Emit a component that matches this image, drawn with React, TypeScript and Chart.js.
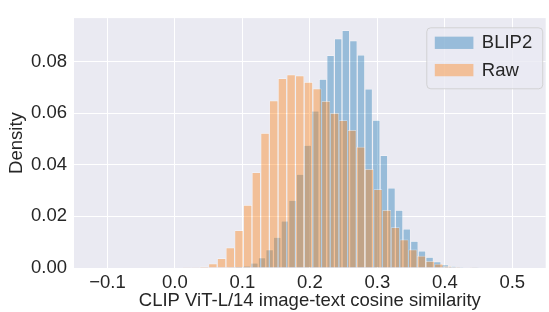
import React, { useEffect, useRef } from "react";
import { Chart, registerables } from "chart.js";

Chart.register(...registerables);

// ---- Data ----
const RAW_BIN_START = -0.1176;
const RAW_BIN_WIDTH = 0.01288;
const rawDensity = [
  0, 0, 0, 0, 0, 0, 0, 0, 0, 0,
  0.0001, 0.0003, 0.0006, 0.0017, 0.0038, 0.0079, 0.0146, 0.0244, 0.0371, 0.0523,
  0.0649, 0.0735, 0.075, 0.0746, 0.072, 0.0695, 0.0647, 0.06, 0.0572, 0.0535,
  0.047, 0.0383, 0.0305, 0.0225, 0.0158, 0.011, 0.0072, 0.0047, 0.0027, 0.0016,
  0.0008, 0.0004, 0.0002, 0.0001, 0, 0, 0, 0, 0,
];

const BLIP2_BIN_START = 0.067;
const BLIP2_BIN_WIDTH = 0.01129;
const blip2Density = [
  0.0002, 0.0003, 0.0005, 0.0009, 0.002, 0.0041, 0.0072, 0.012, 0.0183, 0.0263,
  0.0364, 0.0476, 0.0609, 0.0732, 0.0824, 0.0889, 0.0921, 0.0881, 0.0826, 0.0694,
  0.0573, 0.0437, 0.0311, 0.0225, 0.0152, 0.0105, 0.0067, 0.0043, 0.0025, 0.0014,
  0.0008, 0.0004, 0.0002, 0.0001, 0, 0, 0, 0, 0, 0,
];

const seriesLabels = ["BLIP2", "Raw"];
const xTicks = [-0.1, 0.0, 0.1, 0.2, 0.3, 0.4, 0.5];
const yTicks = [0.0, 0.02, 0.04, 0.06, 0.08];
const X_MIN = -0.1495;
const X_MAX = 0.5495;
const Y_MAX = 0.0968;
const xLabel = "CLIP ViT-L/14 image-text cosine similarity";
const yLabel = "Density";

// ---- Styles ----
const BLUE = "rgba(31,119,180,0.4)";
const ORANGE = "rgba(255,127,14,0.4)";
const EDGE = "rgba(255,255,255,0.55)";
const TEXT = "#262626";
const PLOT_BG = "#EAEAF2";
const FONT_FAMILY = "'Liberation Sans', Arial, sans-serif";
const FONT = { family: FONT_FAMILY, size: 18.5 };

const toPoints = (start: number, width: number, vals: number[]) =>
  vals.map((y, i) => ({ x: start + (i + 0.5) * width, y }));

const fmt = (v: number, d: number) => {
  const s = Math.abs(v) < 1e-9 ? (0).toFixed(d) : v.toFixed(d);
  return s.replace("-", "\u2212");
};

const bgPlugin = {
  id: "plotBg",
  beforeDraw(chart: any) {
    const { ctx, chartArea } = chart;
    ctx.save();
    ctx.fillStyle = PLOT_BG;
    ctx.fillRect(chartArea.left, chartArea.top, chartArea.right - chartArea.left, chartArea.bottom - chartArea.top);
    ctx.restore();
  },
};

const legendPlugin = {
  id: "insideLegend",
  afterDatasetsDraw(chart: any) {
    const { ctx, chartArea } = chart;
    const ds = chart.data.datasets;
    ctx.save();
    ctx.font = `${FONT.size}px ${FONT_FAMILY}`;
    const textW = Math.max(...ds.map((d: any) => ctx.measureText(d.label).width));
    const padL = 8;
    const swW = 38.6;
    const swH = 12.3;
    const gap = 8.4;
    const padR = 10.5;
    const rowH = 27.3;
    const w = padL + swW + gap + textW + padR;
    const h = 61;
    const right = chartArea.right - 3;
    const left = right - w;
    const top = chartArea.top + 9.7;
    const r = 4;
    ctx.beginPath();
    ctx.moveTo(left + r, top);
    ctx.lineTo(left + w - r, top);
    ctx.quadraticCurveTo(left + w, top, left + w, top + r);
    ctx.lineTo(left + w, top + h - r);
    ctx.quadraticCurveTo(left + w, top + h, left + w - r, top + h);
    ctx.lineTo(left + r, top + h);
    ctx.quadraticCurveTo(left, top + h, left, top + h - r);
    ctx.lineTo(left, top + r);
    ctx.quadraticCurveTo(left, top, left + r, top);
    ctx.closePath();
    ctx.fillStyle = "rgba(234,234,242,0.8)";
    ctx.fill();
    ctx.strokeStyle = "rgba(204,204,204,0.8)";
    ctx.lineWidth = 1;
    ctx.stroke();
    ds.forEach((d: any, i: number) => {
      const cy = top + 15 + i * rowH;
      ctx.fillStyle = d.backgroundColor;
      ctx.fillRect(left + padL, cy - swH / 2, swW, swH);
      ctx.fillStyle = TEXT;
      ctx.textBaseline = "middle";
      ctx.textAlign = "left";
      ctx.fillText(d.label, left + padL + swW + gap, cy + 0.5);
    });
    ctx.restore();
  },
};

export default function App() {
  const ref = useRef<HTMLCanvasElement | null>(null);

  useEffect(() => {
    if (!ref.current) return;
    const barCommon = {
      barPercentage: 1,
      categoryPercentage: 1,
      grouped: false,
      borderColor: EDGE,
      borderWidth: { top: 0.75, left: 0.6, right: 0.6, bottom: 0 },
      inflateAmount: 0,
    };
    const chart = new Chart(ref.current, {
      type: "bar",
      data: {
        datasets: [
          {
            ...barCommon,
            label: seriesLabels[0],
            data: toPoints(BLIP2_BIN_START, BLIP2_BIN_WIDTH, blip2Density),
            xAxisID: "x2",
            backgroundColor: BLUE,
            order: 1,
          } as any,
          {
            ...barCommon,
            label: seriesLabels[1],
            data: toPoints(RAW_BIN_START, RAW_BIN_WIDTH, rawDensity),
            xAxisID: "x",
            backgroundColor: ORANGE,
            order: 0,
          } as any,
        ],
      },
      plugins: [bgPlugin, legendPlugin],
      options: {
        animation: false,
        responsive: false,
        devicePixelRatio: 1,
        layout: { padding: { top: 7, right: 3.3, left: 0, bottom: 0 } },
        plugins: { legend: { display: false }, tooltip: { enabled: false } },
        scales: {
          x: {
            type: "linear",
            min: X_MIN,
            max: X_MAX,
            offset: false,
            border: { display: false },
            grid: { color: "#ffffff", lineWidth: 1, drawTicks: false, offset: false },
            ticks: {
              color: TEXT,
              font: FONT,
              padding: 4,
              maxRotation: 0,
              callback: (v: any) => fmt(Number(v), 1),
            },
            afterBuildTicks: (s: any) => {
              s.ticks = xTicks.map((value) => ({ value }));
            },
            afterFit: (s: any) => {
              s.height = 44;
            },
            title: { display: true, text: xLabel, color: TEXT, font: FONT, padding: { top: 0, bottom: 0 } },
          },
          x2: {
            type: "linear",
            min: X_MIN,
            max: X_MAX,
            offset: false,
            display: false,
            grid: { display: false, offset: false },
          },
          y: {
            type: "linear",
            min: 0,
            max: Y_MAX,
            border: { display: false },
            grid: { color: "#ffffff", lineWidth: 1, drawTicks: false },
            ticks: {
              color: TEXT,
              font: FONT,
              padding: 7,
              callback: (v: any) => fmt(Number(v), 2),
            },
            afterBuildTicks: (s: any) => {
              s.ticks = yTicks.map((value) => ({ value }));
            },
            afterFit: (s: any) => {
              s.width = 74;
            },
            title: { display: true, text: yLabel, color: TEXT, font: FONT, padding: { top: 5.4, bottom: 0 } },
          },
        },
      } as any,
    });
    return () => chart.destroy();
  }, []);

  return (
    <div style={{ position: "absolute", left: 0, top: 0, width: 549, height: 312, background: "#ffffff" }}>
      <canvas ref={ref} width={549} height={312} style={{ display: "block", width: 549, height: 312 }} />
    </div>
  );
}
